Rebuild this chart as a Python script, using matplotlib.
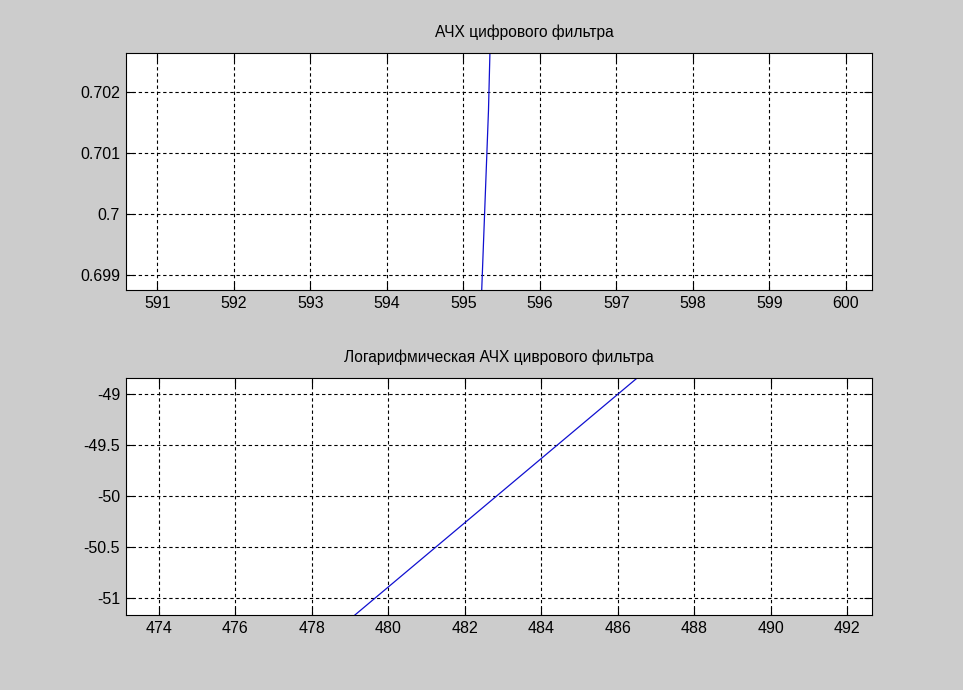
import matplotlib
matplotlib.use("Agg")
import matplotlib.pyplot as plt

# данные
afc_f = [595.24, 595.27, 595.30, 595.33, 595.35]
afc_y = [0.69870, 0.69970, 0.70070, 0.70170, 0.70270]
log_f = [478, 480, 482, 484, 486, 488]
log_y = [-51.52, -50.89, -50.26, -49.63, -49.00, -48.37]

top_xticks = list(range(591, 601))
top_yticks = [0.699, 0.7, 0.701, 0.702]
top_ylabels = ["0.699", "0.7", "0.701", "0.702"]
bot_xticks = list(range(474, 493, 2))
bot_yticks = [-51, -50.5, -50, -49.5, -49]
bot_ylabels = ["-51", "-50.5", "-50", "-49.5", "-49"]

plt.rcParams['font.family'] = ['Liberation Sans', 'DejaVu Sans']
plt.rcParams['font.size'] = 10

fig = plt.figure(figsize=(9.63, 6.90), dpi=100, facecolor='#cccccc')


def style(ax):
    ax.tick_params(direction='in', length=6, top=True, right=True, width=0.8,
                   labelsize=11.5, pad=4)
    ax.grid(True, linestyle=(0, (3, 2.5)), color='black', linewidth=0.8)
    for s in ax.spines.values():
        s.set_linewidth(0.8)


ax1 = fig.add_axes([0.1305, 0.5797, 0.7747, 0.3439])
ax1.plot(afc_f, afc_y, color='#1010d0', linewidth=0.9)
ax1.set_xlim(590.587, 600.34)
ax1.set_ylim(0.698754, 0.70265)
ax1.set_xticks(top_xticks)
ax1.set_yticks(top_yticks)
ax1.set_yticklabels(top_ylabels)
ax1.set_title("АЧХ цифрового фильтра", fontsize=11.2, pad=11, x=0.534)
style(ax1)

ax2 = fig.add_axes([0.1305, 0.1087, 0.7747, 0.3439])
ax2.plot(log_f, log_y, color='#1010d0', linewidth=0.9)
ax2.set_xlim(473.137, 492.64)
ax2.set_ylim(-51.164, -48.837)
ax2.set_xticks(bot_xticks)
ax2.set_yticks(bot_yticks)
ax2.set_yticklabels(bot_ylabels)
ax2.set_title("Логарифмическая АЧХ циврового фильтра", fontsize=11.2, pad=11)
style(ax2)

fig.savefig("out.png", dpi=100, facecolor=fig.get_facecolor())
